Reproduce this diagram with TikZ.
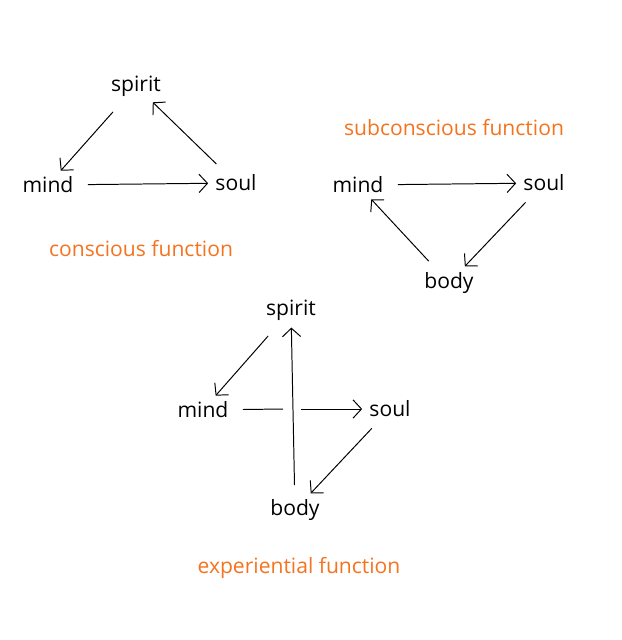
\documentclass[tikz,border=0pt]{standalone}
\usepackage{fontspec}
\setmainfont{Open Sans}
\usetikzlibrary{arrows.meta}
\definecolor{hworange}{HTML}{F5731E}

\begin{document}
\begin{tikzpicture}[x=0.025cm, y=-0.025cm,
    word/.style={font=\fontsize{15}{17}\selectfont, inner sep=2pt},
    title/.style={font=\fontsize{15}{17}\selectfont, text=hworange},
    link/.style={-{Straight Barb[length=6pt,width=13pt]}, line width=0.7pt,
                 shorten <=8pt, shorten >=3pt}]
  \useasboundingbox (0,0) rectangle (621,640);

  % conscious function
  \node[word] (spiritA) at (136,86) {spirit};
  \node[word] (mindA) at (48,185) {mind};
  \node[word] (soulA) at (236,183) {soul};
  \node[title] (titleA) at (141,249) {conscious function};
  \draw[link, shorten <=12pt] (spiritA) -- (mindA);
  \draw[link] (soulA) -- (spiritA);
  \draw[link] (mindA) -- (soulA);

  % subconscious function
  \node[title] (titleB) at (454,128) {subconscious function};
  \node[word] (mindB) at (358,185) {mind};
  \node[word] (soulB) at (544,183) {soul};
  \node[word] (bodyB) at (449,283) {body};
  \draw[link] (mindB) -- (soulB);
  \draw[link] (soulB) -- (bodyB);
  \draw[link] (bodyB) -- (mindB);

  % experiential function
  \node[word] (spiritC) at (291,310) {spirit};
  \node[word] (mindC) at (203,410) {mind};
  \node[word] (soulC) at (390,409) {soul};
  \node[word] (bodyC) at (295,510) {body};
  \node[title] (titleC) at (299,568) {experiential function};
  \coordinate (gapL) at (283,409);
  \coordinate (gapR) at (301,409);
  \draw[link, shorten <=12pt] (spiritC) -- (mindC);
  \draw[link] (bodyC) -- (spiritC);
  \draw[line width=0.7pt, shorten <=8pt] (mindC) -- (gapL);
  \draw[link, shorten <=0pt] (gapR) -- (soulC);
  \draw[link] (soulC) -- (bodyC);
\end{tikzpicture}
\end{document}
